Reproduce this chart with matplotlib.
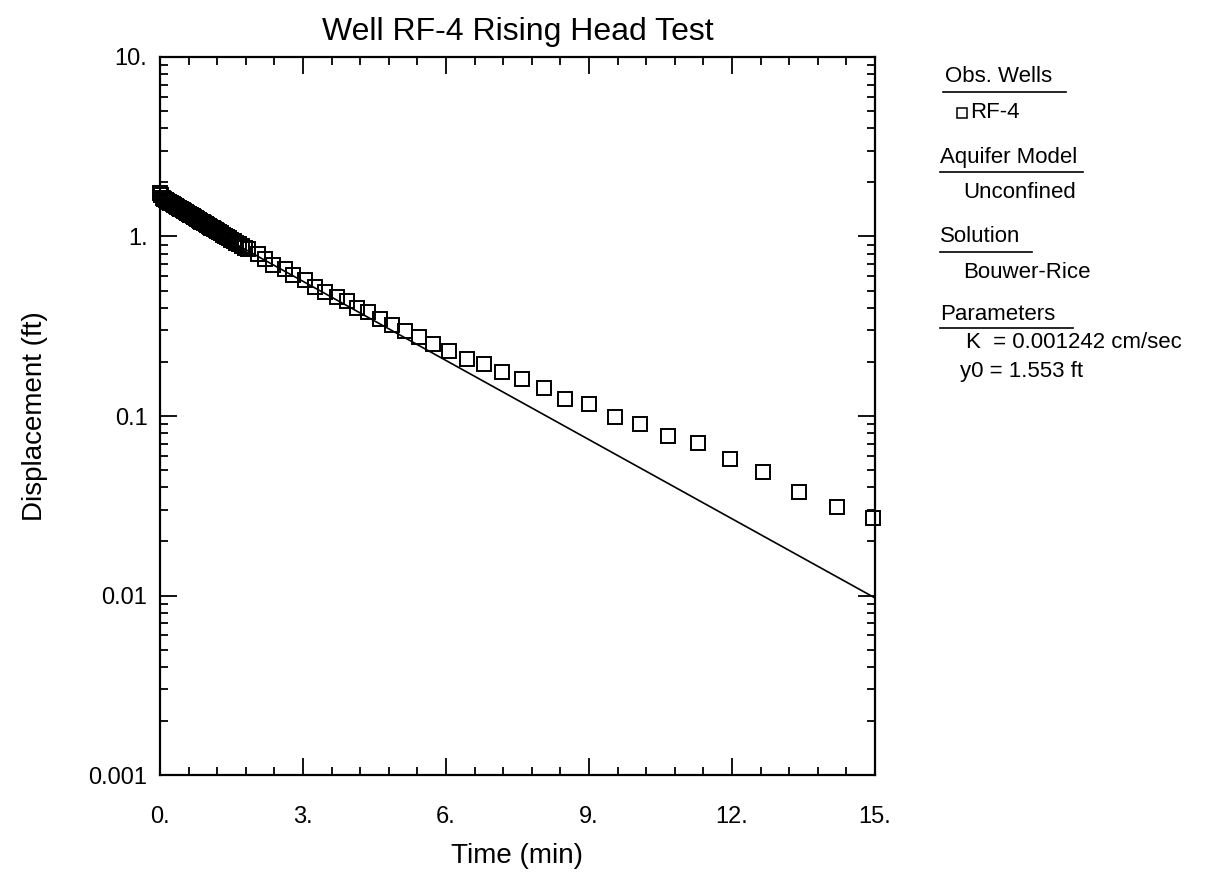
import numpy as np
import matplotlib
matplotlib.use("Agg")
import matplotlib.pyplot as plt
from matplotlib.ticker import MultipleLocator, LogLocator, NullFormatter
from matplotlib.lines import Line2D

plt.rcParams['font.family'] = ['Liberation Sans', 'DejaVu Sans']

obs_t = [0.00, 0.03, 0.06, 0.09, 0.12, 0.15, 0.18, 0.21, 0.24, 0.27,
         0.30, 0.33, 0.36, 0.39, 0.42, 0.45, 0.48, 0.51, 0.54, 0.57,
         0.60, 0.63, 0.66, 0.69, 0.72, 0.75, 0.78, 0.81, 0.84, 0.87,
         0.90, 0.93, 0.96, 0.99, 1.02, 1.05, 1.08, 1.11, 1.14, 1.17,
         1.20, 1.24, 1.28, 1.32, 1.36, 1.40, 1.45, 1.50, 1.55, 1.60,
         1.66, 1.72, 1.78, 1.85,
         2.05, 2.20, 2.37, 2.62, 2.79, 3.04, 3.25, 3.46, 3.71, 3.92,
         4.13, 4.36, 4.62, 4.87, 5.14, 5.43, 5.73, 6.06, 6.44, 6.80,
         7.17, 7.59, 8.06, 8.50, 9.00, 9.54, 10.07, 10.66, 11.29, 11.96,
         12.65, 13.40, 14.20, 14.96]
obs_d = [1.74, 1.70, 1.63, 1.615, 1.60, 1.58, 1.56, 1.545, 1.53, 1.51,
         1.50, 1.48, 1.465, 1.45, 1.43, 1.415, 1.40, 1.385, 1.37, 1.355,
         1.34, 1.325, 1.31, 1.295, 1.28, 1.265, 1.25, 1.24, 1.225, 1.21,
         1.20, 1.185, 1.17, 1.16, 1.145, 1.13, 1.12, 1.11, 1.095, 1.085,
         1.07, 1.055, 1.04, 1.025, 1.01, 0.995, 0.975, 0.96, 0.94, 0.925,
         0.905, 0.885, 0.865, 0.85,
         0.794, 0.745, 0.698, 0.655, 0.614, 0.575, 0.526, 0.488, 0.463, 0.435,
         0.402, 0.382, 0.345, 0.323, 0.296, 0.277, 0.253, 0.229, 0.209, 0.196,
         0.175, 0.160, 0.144, 0.125, 0.116, 0.0993, 0.0897, 0.0769, 0.0703, 0.0573,
         0.0485, 0.0379, 0.0313, 0.0272]

# Bouwer-Rice fitted line (straight on semi-log, end points)
fit_t = [0.0, 15.0]
fit_d = [1.553, 0.0097]

xticks = [0, 3, 6, 9, 12, 15]
xlabels = ['0.', '3.', '6.', '9.', '12.', '15.']
yticks = [0.001, 0.01, 0.1, 1, 10]
ylabels = ['0.001', '0.01', '0.1', '1.', '10.']

fig = plt.figure(figsize=(12.1, 8.89), dpi=100)
ax = fig.add_axes([0.1322, 0.1282, 0.5909, 0.8077])

ax.plot(fit_t, fit_d, color='black', lw=1.2)
ax.plot(obs_t, obs_d, 's', ms=9.5, mfc='none', mec='black', mew=1.4, clip_on=False)

ax.set_yscale('log')
ax.set_xlim(0, 15)
ax.set_ylim(0.001, 10)
ax.set_xticks(xticks)
ax.set_xticklabels(xlabels)
ax.set_yticks(yticks)
ax.set_yticklabels(ylabels)
ax.xaxis.set_minor_locator(MultipleLocator(0.6))
ax.yaxis.set_minor_locator(LogLocator(base=10, subs=np.arange(2, 10)))
ax.yaxis.set_minor_formatter(NullFormatter())

ax.tick_params(which='both', direction='in', top=True, right=True, width=1.3)
ax.tick_params(which='major', length=12, labelsize=17)
ax.tick_params(axis='x', which='major', pad=22)
ax.tick_params(axis='y', which='major', pad=9)
ax.tick_params(which='minor', length=6)
for s in ax.spines.values():
    s.set_linewidth(1.6)

ax.set_title('Well RF-4 Rising Head Test', fontsize=23, pad=12)
ax.set_xlabel('Time (min)', fontsize=20, labelpad=11)
ax.set_ylabel('Displacement (ft)', fontsize=20, labelpad=29)

# info panel on the right
W, H = 1210.0, 889.0
def ftext(x, y, s):
    fig.text(x / W, 1 - y / H, s, fontsize=16, va='center', ha='left')

def uline(x0, x1, y):
    fig.add_artist(Line2D([x0 / W, x1 / W], [1 - y / H, 1 - y / H], color='black', lw=1.2))

ftext(945, 77, 'Obs. Wells')
uline(943, 1066, 92)
fig.add_artist(Line2D([962 / W], [1 - 113 / H], marker='s', ms=7, mfc='none', mec='black', mew=1.1))
ftext(970, 113, 'RF-4')
ftext(940, 157, 'Aquifer Model')
uline(940, 1083, 172)
ftext(963, 192, 'Unconfined')
ftext(940, 237, 'Solution')
uline(940, 1032, 252)
ftext(963, 273, 'Bouwer-Rice')
ftext(940, 315, 'Parameters')
uline(940, 1073, 328)
ftext(966, 343, 'K  = 0.001242 cm/sec')
ftext(960, 372, 'y0 = 1.553 ft')

fig.savefig('out.png', dpi=100, facecolor='white')
